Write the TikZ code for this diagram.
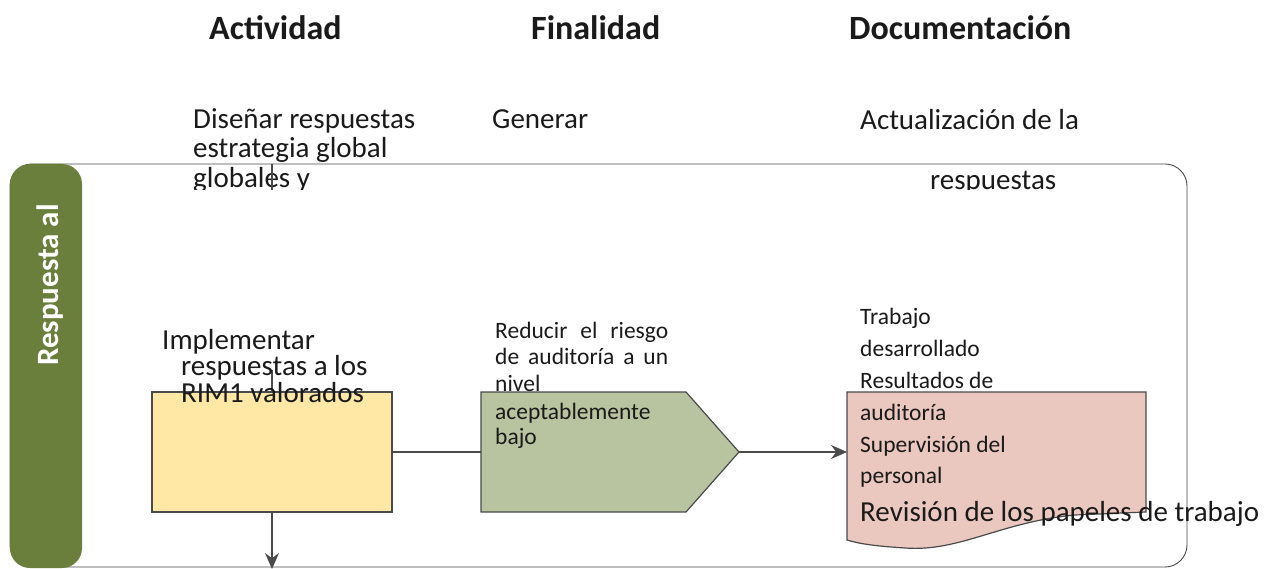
\documentclass[tikz,border=0pt]{standalone}
\usepackage{fontspec}
\setmainfont{Carlito}
\usetikzlibrary{arrows.meta}
\definecolor{pillgreen}{HTML}{6A7F3B}
\definecolor{boxyellow}{HTML}{FFE8A6}
\definecolor{boxgreen}{HTML}{B8C4A0}
\definecolor{boxpink}{HTML}{EBC8BF}
\definecolor{edge}{HTML}{4A4A4A}
\definecolor{ink}{HTML}{1A1A1A}
\tikzset{
  txt/.style={inner sep=0pt, anchor=base west, text=ink, font=\fontsize{29}{29}\selectfont},
  smalltxt/.style={txt, font=\fontsize{23.5}{23.5}\selectfont},
  headtxt/.style={txt, font=\bfseries\fontsize{34}{34}\selectfont},
  shapeline/.style={draw=edge, line width=1.2pt},
  conn/.style={draw=edge, line width=1.2pt},
  arrowconn/.style={conn, -{Stealth[length=16pt,width=14pt]}},
}
\begin{document}
\begin{tikzpicture}[x=1pt,y=-1pt]
\useasboundingbox (0,0) rectangle (1268,569);
\fill[white] (0,0) rectangle (1268,569);

% outer lane
\draw[draw=edge, line width=0.9pt, rounded corners=22pt] (10,164) rectangle (1187,567);
% pill
\fill[pillgreen, rounded corners=20pt] (10,164) rectangle (82,568);
\node[text=white, font=\bfseries\fontsize{31}{31}\selectfont, rotate=90, inner sep=0pt, anchor=base] (pilltxt) at (58,285) {Respuesta al};

% headers
\node[headtxt] (hact) at (209,40) {Actividad};
\node[headtxt] (hfin) at (531,40) {Finalidad};
\node[headtxt] (hdoc) at (849,40) {Documentación};

% top row texts
\node[txt] (dis1) at (193,129) {Diseñar respuestas};
\node[txt] (dis2) at (193,158) {estrategia global};
\node[txt] (gen) at (492,129) {Generar};
\node[txt] (act1) at (860,130) {Actualización de la};
\begin{scope}
\clip (0,0) rectangle (1268,190);
\node[txt] (dis3) at (193,188) {globales y};
\node[txt] (act2) at (930,190) {respuestas};
\end{scope}

% fragments of the upper connector
\coordinate (upA) at (272,164);
\coordinate (upB) at (272,190);
\draw[conn] (upA) -- (upB);

% yellow box
\node[shapeline, fill=boxyellow, minimum width=240pt, minimum height=120pt, inner sep=0pt] (yel) at (272,452) {};
\coordinate (upC) at (272,370);
\draw[conn] (upC) -- (yel.north);
\node[txt] (imp1) at (162,349) {Implementar};
\node[txt] (imp2) at (181,375) {respuestas a los};
\node[txt] (imp3) at (181,402) {RIM1 valorados};

% finalidad text above pentagon
\node[smalltxt] (red1) at (495,338) {\makebox[173pt][s]{Reducir el riesgo}};
\node[smalltxt] (red2) at (495,364) {\makebox[173pt][s]{de auditoría a un}};
\node[smalltxt] (red3) at (495,391) {nivel};

% green pentagon
\filldraw[shapeline, fill=boxgreen] (481,392) -- (686,392) -- (739,452) -- (686,512) -- (481,512) -- cycle;
\coordinate (pentW) at (481,452);
\coordinate (pentE) at (739,452);
\node[smalltxt] (red4) at (495,419) {aceptablemente};
\node[smalltxt] (red5) at (495,444) {bajo};

% pink document
\filldraw[shapeline, fill=boxpink] (847,392) -- (1146,392) -- (1146,512) -- (1075,515)
  .. controls (1000,522) and (960,552) .. (905,548)
  .. controls (875,546) and (860,544) .. (847,540) -- cycle;
\coordinate (docW) at (847,452);

% connectors
\draw[conn] (yel.east) -- (pentW);
\draw[arrowconn] (pentE) -- (docW);
\coordinate (downEnd) at (272,569);
\draw[arrowconn] (yel.south) -- (downEnd);

% documentation texts
\node[smalltxt] (d1) at (860,324) {Trabajo};
\node[smalltxt] (d2) at (860,356) {desarrollado};
\node[smalltxt] (d3) at (860,388) {Resultados de};
\node[smalltxt] (d4) at (860,420) {auditoría};
\node[smalltxt] (d5) at (860,452) {Supervisión del};
\node[smalltxt] (d6) at (860,483) {personal};
\node[txt] (d7) at (860,521) {Revisión de los papeles de trabajo};
\end{tikzpicture}
\end{document}
